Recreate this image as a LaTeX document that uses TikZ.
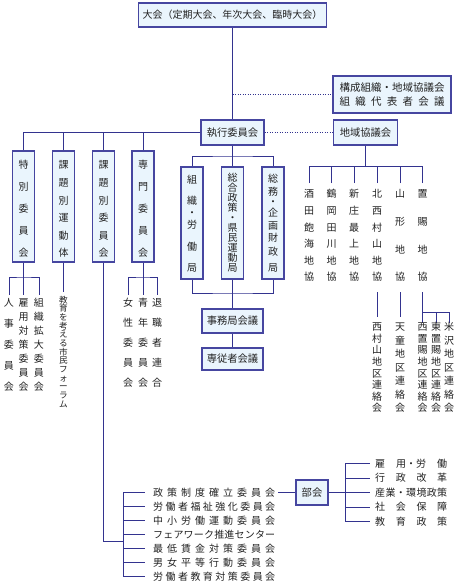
\documentclass[tikz,border=0pt]{standalone}
\usepackage{fontspec}
\newfontfamily\jp{Noto Sans CJK JP}
\definecolor{lc}{HTML}{33338F}
\definecolor{bx}{HTML}{4646A0}
\definecolor{bf}{HTML}{EAF5FD}
\definecolor{tx}{HTML}{222222}
\def\jsplit#1{\ifx#1\relax\else#1\expandafter\jsplitnext\fi}
\def\jsplitnext#1{\ifx#1\relax\else\hfill#1\expandafter\jsplitnext\fi}
\newcommand\hj[2]{\makebox[#1][s]{\expandafter\jsplit#2\relax}}
\newcommand\vcol[7][]{\foreach \vchar [count=\i from 0] in {#7} {\node[vc,#1] (#2-\i) at (#3,{#4+(#5-#4)*\i/(#6-1)}) {\vchar};}}
\newcommand\vpos[3]{\foreach \yy/\vchar [count=\i] in {#3} {\node[vc] (#1-\i) at (#2,\yy) {\vchar};}}
\begin{document}
\begin{tikzpicture}[x=1pt,y=-1pt,
 box/.style={draw=bx, fill=bf, line width=1.1pt, inner sep=0pt, text=tx, font=\jp\fontsize{10.3}{13}\selectfont},
 ln/.style={draw=lc, line width=0.9pt},
 dot/.style={draw=lc, line width=0.9pt, dash pattern=on 1.2pt off 1.3pt},
 vc/.style={inner sep=0pt, text=tx, font=\jp\fontsize{10}{12}\selectfont, text height=8.8pt, text depth=1.2pt},
 lt/.style={inner sep=0pt, text=tx, font=\jp\fontsize{10}{12}\selectfont, anchor=west, text height=8.8pt, text depth=1.2pt}]
\fill[white] (0,0) rectangle (461,587);
\useasboundingbox (0,0) rectangle (461,587);
% main boxes
\node[box, minimum width=188pt, minimum height=24pt, font=\jp\fontsize{10}{12}\selectfont] (taikai) at (232.5,15) {大会（定期大会、年次大会、臨時大会）};
\node[box, minimum width=118pt, minimum height=37pt, align=center, font=\jp\fontsize{10.5}{14}\selectfont] (kosei) at (392,94.5) {構成組織・地域協議会\\\hj{105pt}{組織代表者会議}};
\node[box, minimum width=63pt, minimum height=25pt] (shikko) at (232.5,132.5) {執行委員会};
\node[box, minimum width=64pt, minimum height=25pt] (chiiki) at (365.5,132.5) {地域協議会};
\foreach \nm/\xx in {b1/23.5,b2/63.5,b3/103.5,b4/143}
  \node[box, minimum width=22pt, minimum height=111pt] (\nm) at (\xx,206.5) {};
\foreach \nm/\xx in {c1/192,c2/232.5,c3/273}
  \node[box, minimum width=22pt, minimum height=112pt] (\nm) at (\xx,223) {};
\node[box, minimum width=61pt, minimum height=24pt] (jimu) at (232.5,321) {事務局会議};
\node[box, minimum width=61pt, minimum height=22pt] (senju) at (232.5,359) {専従者会議};
\node[box, minimum width=32pt, minimum height=25pt] (bukai) at (312,492.5) {部会};
% main connectors
\draw[ln] (taikai) -- (shikko);
\coordinate (kj) at (232.5,94.5);
\draw[dot] (kj) -- (kosei.west);
\draw[dot] (shikko) -- (chiiki);
\draw[ln] (shikko.west) -| (b1.north);
\foreach \nm in {b2,b3,b4} \draw[ln] (\nm.north) |- (shikko.west);
\coordinate (bar1) at (232.5,156);
\draw[ln] (shikko) -- (c2);
\draw[ln] (c1.north) |- (bar1) -| (c3.north);
\coordinate (bar2) at (232.5,293);
\draw[ln] (c1.south) |- (bar2) -| (c3.south);
\draw[ln] (c2) -- (jimu);
\draw[ln] (jimu) -- (senju);
% box texts
\vcol{b1t}{23.5}{165}{253}{5}{特,別,委,員,会}
\vcol{b2t}{63.5}{165}{253}{6}{課,題,別,運,動,体}
\vcol{b3t}{103.5}{165}{253}{6}{課,題,別,委,員,会}
\vcol{b4t}{143}{165}{253}{5}{専,門,委,員,会}
\vpos{c1t}{192}{180/組,201/織,213/・,225/労,247/働,268/局}
\vcol{c2t}{232.5}{178}{268}{10}{総,合,政,策,・,県,民,運,動,局}
\vpos{c3t}{273}{179/総,192/務,202/・,213/企,226/画,238/財,252/政,268/局}
% chiiki subtree
\coordinate (cb) at (365.5,166);
\draw[ln] (chiiki.south) -- (cb);
\foreach \i/\xx in {1/309,2/331.5,3/354,4/377,5/400,6/422.5} {
  \coordinate (t\i) at (\xx,183);
  \draw[ln] (t\i) |- (cb);
}
\vcol{d1}{309}{194}{277}{6}{酒,田,飽,海,地,協}
\vcol{d2}{331.5}{194}{277}{6}{鶴,岡,田,川,地,協}
\vcol{d3}{354}{194}{277}{6}{新,庄,最,上,地,協}
\vcol{d4}{377}{194}{277}{6}{北,西,村,山,地,協}
\vcol{d5}{400}{194}{277}{4}{山,形,地,協}
\vcol{d6}{422.5}{194}{277}{4}{置,賜,地,協}
\coordinate (s4a) at (377,292); \coordinate (s4b) at (377,317);
\coordinate (s5a) at (400,292); \coordinate (s5b) at (400,317);
\coordinate (s6a) at (422.5,292); \coordinate (s6b) at (422.5,323);
\coordinate (s6j) at (422.5,312);
\coordinate (s7b) at (436,323); \coordinate (s8b) at (449,323);
\draw[ln] (s4a) -- (s4b);
\draw[ln] (s5a) -- (s5b);
\draw[ln] (s6a) -- (s6b);
\draw[ln] (s6j) -| (s8b);
\draw[ln] (s7b) |- (s6j);
\vcol{e1}{377}{327}{408}{8}{西,村,山,地,区,連,絡,会}
\vcol{e2}{400}{327}{408}{7}{天,童,地,区,連,絡,会}
\vcol{e3}{422.5}{327}{408}{8}{西,置,賜,地,区,連,絡,会}
\vcol{e4}{436}{327}{408}{8}{東,置,賜,地,区,連,絡,会}
\vcol{e5}{449}{327}{408}{7}{米,沢,地,区,連,絡,会}
% b1 subtree
\coordinate (l1j) at (23.5,277);
\coordinate (l1a) at (9,295); \coordinate (l1b) at (23.5,295); \coordinate (l1c) at (39,295);
\draw[ln] (b1.south) -- (l1j);
\draw[ln] (l1a) |- (l1j) -| (l1c);
\draw[ln] (l1j) -- (l1b);
\vcol{p1}{9}{303}{387}{5}{人,事,委,員,会}
\vcol{p2}{23.5}{303}{387}{7}{雇,用,対,策,委,員,会}
\vcol{p3}{39}{303}{387}{7}{組,織,拡,大,委,員,会}
% b2 subtree
\coordinate (l2e) at (63.5,292);
\draw[ln] (b2.south) -- (l2e);
\vcol[font=\jp\fontsize{8.6}{10}\selectfont, text height=7.6pt, text depth=1pt]{p4}{63.5}{300}{404}{13}{教,育,を,考,え,る,市,民,フ,ォ,ー,ラ,ム}
% b4 subtree
\coordinate (l4j) at (143,277);
\coordinate (l4a) at (128,295); \coordinate (l4b) at (143,295); \coordinate (l4c) at (157,295);
\draw[ln] (b4.south) -- (l4j);
\draw[ln] (l4a) |- (l4j) -| (l4c);
\draw[ln] (l4j) -- (l4b);
\vcol{p5}{128}{303}{383}{5}{女,性,委,員,会}
\vcol{p6}{143}{303}{383}{5}{青,年,委,員,会}
\vcol{p7}{157}{303}{383}{5}{退,職,者,連,合}
% b3 subtree and committee list
\coordinate (l3j) at (123,541);
\draw[ln] (b3.south) |- (l3j);
\foreach \i/\t in {1/政策制度確立委員会,2/労働者福祉強化委員会,3/中小労働運動委員会,4/フェアワーク推進センター,5/最低賃金対策委員会,6/男女平等行動委員会,7/労働者教育対策委員会} {
  \node[lt] (q\i) at (153,{478.5+14*\i}) {\hj{122pt}{\t}};
  \coordinate (k\i) at (123,{478.5+14*\i});
  \draw[ln, shorten >=8pt] (k\i) -- (q\i.west);
}
\draw[ln] (k1) -- (k7);
\draw[ln, shorten <=3pt] (q1.east) -- (bukai.west);
% bukai list
\node[lt] (r1) at (375,463.5) {\makebox[72pt][s]{雇\hfill 用・労\hfill 働}};
\node[lt] (r2) at (375,478) {\hj{72pt}{行政改革}};
\node[lt] (r3) at (375,492.5) {\hj{72pt}{産業・環境政策}};
\node[lt] (r4) at (375,507) {\hj{72pt}{社会保障}};
\node[lt] (r5) at (375,521.5) {\hj{72pt}{教育政策}};
\foreach \i/\yy in {1/463.5,2/478,3/492.5,4/507,5/521.5} {
  \coordinate (h\i) at (345,\yy);
  \draw[ln, shorten >=5pt] (h\i) -- (r\i.west);
}
\draw[ln] (h1) -- (h5);
\draw[ln] (bukai.east) -- (h3);
\end{tikzpicture}
\end{document}
